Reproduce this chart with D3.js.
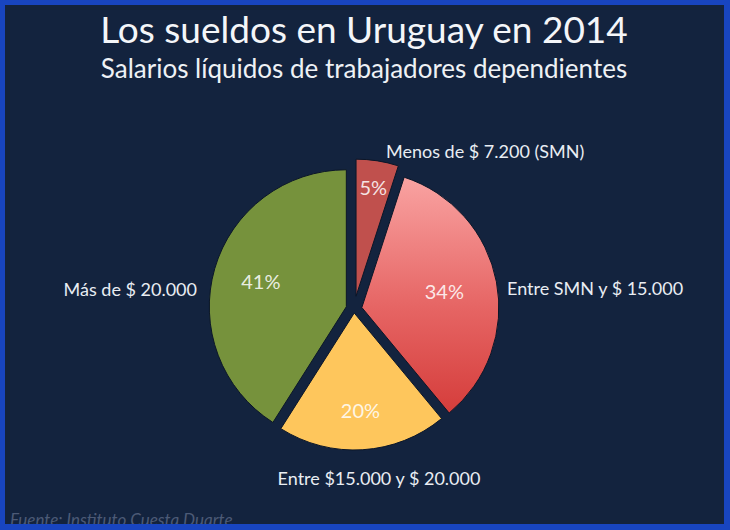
<!DOCTYPE html>
<html>
<head>
<meta charset="utf-8">
<script src="https://cdn.jsdelivr.net/npm/d3@7"></script>
<style>
  body { margin: 0; background: #13233e; }
  svg { display: block; }
</style>
</head>
<body>
<div id="pie_chart"></div>
<script>
// the data
const categories = ["Menos de $ 7.200 (SMN)", "Entre SMN y $ 15.000", "Entre $15.000 y $ 20.000", "Más de $ 20.000"];
const shares = [5, 34, 20, 41];
const pct_labels = ["5%", "34%", "20%", "41%"];

// styling per slice (kept apart from the data)
const slice_colors = ["#c0504d", "url(#grad_red)", "#fec65c", "#76923c"];
const explode = [13, 8, 4, 8];
const pct_radius = [110, 84, 98, 89];
// outer label offsets from the pie centre: dx, dy (baseline), anchor
const outer_label_at = [[32, -151, "start"], [153, -14, "start"], [25, 176, "middle"], [-157, -13, "end"]];

const width = 730, height = 530;
const pie_cx = 354, pie_cy = 309, radius = 137;

const svg = d3.select("#pie_chart")
  .append("svg")
    .attr("width", width)
    .attr("height", height);

const defs = svg.append("defs");
const grad = defs.append("linearGradient")
    .attr("id", "grad_red")
    .attr("x1", 0).attr("y1", 0)
    .attr("x2", 0).attr("y2", 1);
grad.append("stop").attr("offset", "0%").attr("stop-color", "#f9a3a2");
grad.append("stop").attr("offset", "55%").attr("stop-color", "#e66564");
grad.append("stop").attr("offset", "100%").attr("stop-color", "#d53d3b");

// background
svg.append("rect")
    .attr("width", width)
    .attr("height", height)
    .attr("fill", "#13233e");

// titles
svg.append("text")
    .attr("x", 364)
    .attr("y", 43)
    .attr("text-anchor", "middle")
    .attr("font-family", "Lato, 'Open Sans', sans-serif")
    .attr("font-size", 37)
    .attr("fill", "#f4f6f9")
    .text("Los sueldos en Uruguay en 2014");

svg.append("text")
    .attr("x", 364)
    .attr("y", 78)
    .attr("text-anchor", "middle")
    .attr("font-family", "Lato, 'Open Sans', sans-serif")
    .attr("font-size", 26)
    .attr("fill", "#eef1f5")
    .text("Salarios líquidos de trabajadores dependientes");

// the pie
const pie = d3.pie().sort(null).value(d => d);
const arcs = pie(shares);
const arc = d3.arc().innerRadius(0).outerRadius(radius);

// move each slice out along its mid angle
function shift(d, i, dist) {
  const a = (d.startAngle + d.endAngle) / 2;
  return [Math.sin(a) * dist, -Math.cos(a) * dist];
}

const slices = svg.append("g")
    .attr("transform", `translate(${pie_cx},${pie_cy})`);

slices.selectAll("path")
  .data(arcs)
  .join("path")
    .attr("transform", (d, i) => `translate(${shift(d, i, explode[i])})`)
    .attr("d", arc)
    .attr("fill", (d, i) => slice_colors[i])
    .attr("stroke", "#0b1628")
    .attr("stroke-width", 1);

// percentage labels inside the slices
slices.selectAll("text.pct")
  .data(arcs)
  .join("text")
    .attr("class", "pct")
    .attr("x", (d, i) => shift(d, i, explode[i] + pct_radius[i])[0])
    .attr("y", (d, i) => shift(d, i, explode[i] + pct_radius[i])[1])
    .attr("dy", "0.36em")
    .attr("text-anchor", "middle")
    .attr("font-family", "Lato, 'Open Sans', sans-serif")
    .attr("font-size", 20)
    .attr("fill", "#ffffff")
    .attr("fill-opacity", 0.86)
    .text((d, i) => pct_labels[i]);

// category labels outside
slices.selectAll("text.cat")
  .data(categories)
  .join("text")
    .attr("class", "cat")
    .attr("x", (d, i) => outer_label_at[i][0])
    .attr("y", (d, i) => outer_label_at[i][1])
    .attr("text-anchor", (d, i) => outer_label_at[i][2])
    .attr("font-family", "Lato, 'Open Sans', sans-serif")
    .attr("font-size", 18)
    .attr("fill", "#e9edf3")
    .text(d => d);

// source note, partly hidden by the frame
svg.append("text")
    .attr("x", 10)
    .attr("y", 526)
    .attr("font-family", "Lato, 'Open Sans', sans-serif")
    .attr("font-style", "italic")
    .attr("font-size", 17)
    .attr("fill", "#4c5a76")
    .text("Fuente: Instituto Cuesta Duarte");

// blue frame round the slide
svg.append("path")
    .attr("fill-rule", "evenodd")
    .attr("fill", "#1845c0")
    .attr("d", `M0,0H${width}V${height}H0Z M5,5V524H724V5Z`);
</script>
</body>
</html>
